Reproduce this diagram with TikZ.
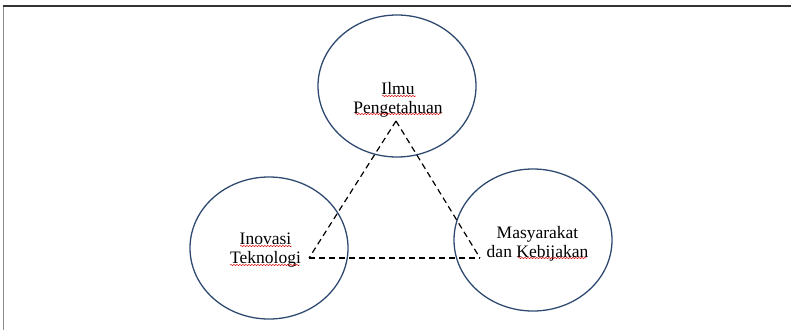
\documentclass[tikz,border=0pt]{standalone}
\usepackage{fontspec}
\setmainfont{Liberation Serif}
\usepackage[HTML]{xcolor}
\usetikzlibrary{shapes.geometric, decorations.pathmorphing}

\definecolor{ringblue}{HTML}{2F4A70}
\tikzset{
  ring/.style={ellipse, draw=ringblue, line width=1.3pt, minimum width=158pt, minimum height=142pt, inner sep=0pt},
  label/.style={align=center, inner sep=0pt, font=\fontsize{17.5}{19}\selectfont},
  link/.style={draw=black, line width=1.2pt, dash pattern=on 6pt off 4pt},
  squig/.style={draw=red!85!black, line width=0.45pt, decorate, decoration={snake, amplitude=0.7pt, segment length=3pt}}
}

\begin{document}
\begin{tikzpicture}[x=1pt, y=-1pt]
\useasboundingbox (0,0) rectangle (791,330);
% frame
\draw[gray!90, line width=1.5pt] (3.5,6) -- (3.5,330);
\draw[black!80, line width=1.3pt] (3,6) -- (791,6);

\node[ring] (ilmu) at (397,86) {};
\node[ring] (inovasi) at (269,248) {};
\node[ring] (masy) at (533,240) {};

\node[label] (ilmutext) at (398,100) {Ilmu\\Pengetahuan};
\node[label] (inovasitext) at (265.5,250) {Inovasi\\Teknologi};
\node[label] (masytext) at (537.5,243.5) {Masyarakat\\dan Kebijakan};

\coordinate (ptop) at (396,121);
\coordinate (pleft) at (309,258);
\coordinate (pright) at (480,258);

\draw[link] (ptop) -- (pleft);
\draw[link] (ptop) -- (pright);
\draw[link] (pleft) -- (pright);

% spelling marks
\draw[squig] (382,96) -- (416,96);
\draw[squig] (355,114) -- (442,114);
\draw[squig] (240,246) -- (292,246);
\draw[squig] (230,265) -- (300,265);
\draw[squig] (518,258) -- (587,258);
\end{tikzpicture}
\end{document}
